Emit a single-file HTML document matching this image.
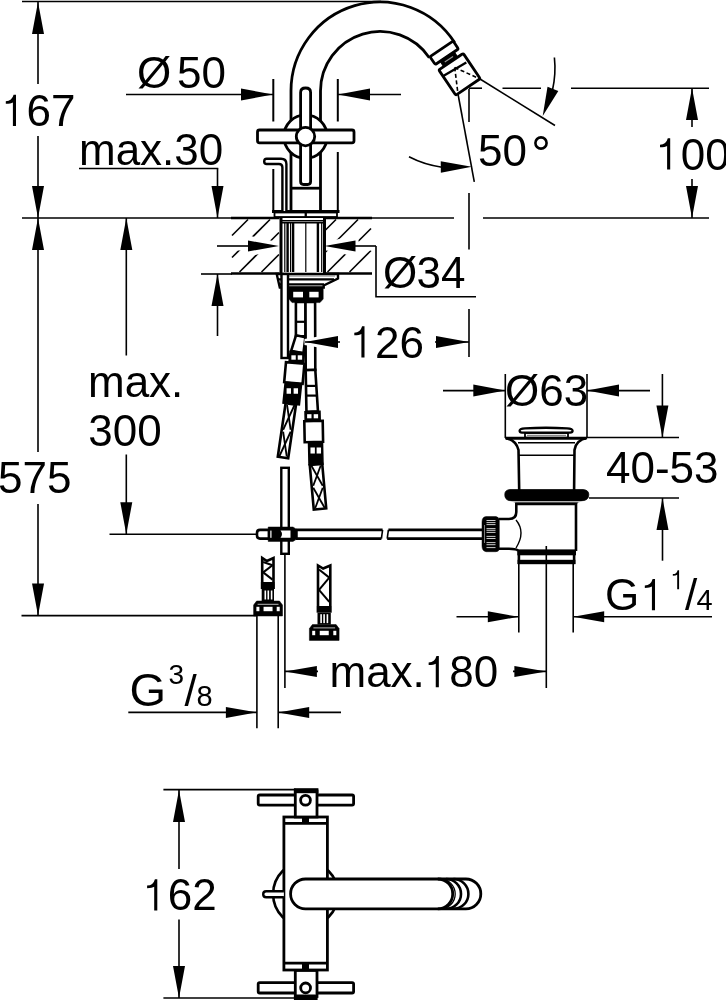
<!DOCTYPE html>
<html><head><meta charset="utf-8"><style>
html,body{margin:0;padding:0;background:#fff;overflow:hidden;}
svg{display:block;will-change:transform;}
text{font-family:"Liberation Sans",sans-serif;fill:#000;stroke:none;}
</style></head><body>
<svg width="726" height="1000" viewBox="0 0 726 1000" stroke="#000" fill="none">
<line x1="22" y1="1.5" x2="381" y2="1.5" stroke-width="1.6" stroke-linecap="butt"/>
<line x1="38" y1="2" x2="38" y2="84" stroke-width="1.6" stroke-linecap="butt"/>
<polygon points="38,2 44,34 32,34" fill="#000" stroke="none"/>
<path transform="translate(2,126) scale(1.0000)" d="M14,0 L10.9,0 L10.9,-23.6 Q9,-22.2 3.8,-22.2 L3.8,-24.8 Q10,-25 11.6,-31.2 L14,-31.2 Z" fill="#000" stroke="none"/>
<text x="2" y="126" font-size="44" text-anchor="start" > 67</text>
<line x1="38" y1="136" x2="38" y2="218" stroke-width="1.6" stroke-linecap="butt"/>
<polygon points="38,218 32,186 44,186" fill="#000" stroke="none"/>
<line x1="22" y1="218" x2="454" y2="218" stroke-width="1.6" stroke-linecap="butt"/>
<line x1="483" y1="218" x2="709" y2="218" stroke-width="1.6" stroke-linecap="butt"/>
<text x="137" y="88" font-size="44" text-anchor="start" >Ø</text>
<text x="177" y="88" font-size="44" text-anchor="start" >50</text>
<line x1="126" y1="94.5" x2="273" y2="94.5" stroke-width="1.6" stroke-linecap="butt"/>
<polygon points="273,94.5 241,100.5 241,88.5" fill="#000" stroke="none"/>
<line x1="338" y1="94.5" x2="401" y2="94.5" stroke-width="1.6" stroke-linecap="butt"/>
<polygon points="338,94.5 370,88.5 370,100.5" fill="#000" stroke="none"/>
<text x="79" y="165.3" font-size="44" text-anchor="start" >max.30</text>
<line x1="79" y1="168.5" x2="218.3" y2="168.5" stroke-width="1.6" stroke-linecap="butt"/>
<line x1="217.5" y1="168.5" x2="217.5" y2="218" stroke-width="1.6" stroke-linecap="butt"/>
<polygon points="217.5,218 211.5,186 223.5,186" fill="#000" stroke="none"/>
<line x1="217.5" y1="274" x2="217.5" y2="336" stroke-width="1.6" stroke-linecap="butt"/>
<polygon points="217.5,274 223.5,306 211.5,306" fill="#000" stroke="none"/>
<line x1="201" y1="274" x2="232" y2="274" stroke-width="1.6" stroke-linecap="butt"/>
<g stroke-width="1.6">
<line x1="232" y1="235.5" x2="248" y2="219.5" stroke-width="1.6" stroke-linecap="butt"/>
<line x1="232" y1="257.5" x2="270" y2="219.5" stroke-width="1.6" stroke-linecap="butt"/>
<line x1="239.5" y1="272" x2="279" y2="232.5" stroke-width="1.6" stroke-linecap="butt"/>
<line x1="261.5" y1="272" x2="279" y2="254.5" stroke-width="1.6" stroke-linecap="butt"/>
<line x1="325.5" y1="230" x2="336" y2="219.5" stroke-width="1.6" stroke-linecap="butt"/>
<line x1="325.5" y1="252" x2="358" y2="219.5" stroke-width="1.6" stroke-linecap="butt"/>
<line x1="327.5" y1="272" x2="371" y2="228.5" stroke-width="1.6" stroke-linecap="butt"/>
<line x1="349.5" y1="272" x2="371" y2="250.5" stroke-width="1.6" stroke-linecap="butt"/>
</g>
<polyline stroke="#fff" points="217,246 279,246" stroke-width="9" fill="none" stroke-linejoin="miter" stroke-linecap="butt"/>
<polygon points="279,246 248,239 248,253" fill="#fff" stroke="#fff" stroke-width="7"/>
<polyline stroke="#fff" points="324.5,246 376,246" stroke-width="9" fill="none" stroke-linejoin="miter" stroke-linecap="butt"/>
<polygon points="324.5,246 355,239 355,253" fill="#fff" stroke="#fff" stroke-width="7"/>
<line x1="231" y1="218" x2="372" y2="218" stroke-width="2.4" stroke-linecap="butt"/>
<line x1="231" y1="273.5" x2="372" y2="273.5" stroke-width="2.4" stroke-linecap="butt"/>
<rect x="279.5" y="218" width="45" height="56" stroke="none" fill="#fff"/>
<line x1="281" y1="218" x2="281" y2="274" stroke-width="3" stroke-linecap="butt"/>
<line x1="324.5" y1="218" x2="324.5" y2="274" stroke-width="3" stroke-linecap="butt"/>
<line x1="284.8" y1="222" x2="284.8" y2="272" stroke-width="1.2" stroke-linecap="butt"/>
<line x1="287.6" y1="222" x2="287.6" y2="272" stroke-width="2.4" stroke-linecap="butt"/>
<line x1="290.6" y1="222" x2="290.6" y2="272" stroke-width="1.2" stroke-linecap="butt"/>
<line x1="293.1" y1="222" x2="293.1" y2="272" stroke-width="2.4" stroke-linecap="butt"/>
<line x1="305.8" y1="222" x2="305.8" y2="272" stroke-width="1.2" stroke-linecap="butt"/>
<line x1="317.9" y1="222" x2="317.9" y2="272" stroke-width="2.4" stroke-linecap="butt"/>
<line x1="321.7" y1="222" x2="321.7" y2="272" stroke-width="1.2" stroke-linecap="butt"/>
<line x1="282" y1="220.5" x2="323" y2="220.5" stroke-width="1.0" stroke-linecap="butt"/>
<line x1="282" y1="222.5" x2="323" y2="222.5" stroke-width="2" stroke-linecap="butt"/>
<line x1="217" y1="246" x2="249" y2="246" stroke-width="1.6" stroke-linecap="butt"/>
<polygon points="279,246 248,251.5 248,240.5" fill="#000" stroke="none"/>
<line x1="354" y1="246" x2="376" y2="246" stroke-width="1.6" stroke-linecap="butt"/>
<polygon points="324.5,246 355.5,240.5 355.5,251.5" fill="#000" stroke="none"/>
<polyline points="376,246 376,296.7 476,296.7" stroke-width="1.6" fill="none" stroke-linejoin="miter" stroke-linecap="butt"/>
<text x="383" y="287.8" font-size="44" text-anchor="start" >Ø</text>
<text x="416.5" y="287.8" font-size="44" text-anchor="start" >34</text>
<path d="M291,212 L291,91 A89,89 0 0 1 454.64,42.53" stroke-width="2.8" fill="none" />
<path d="M320.5,212 L320.5,91 A59.5,59.5 0 0 1 429.33,57.73" stroke-width="2.8" fill="none" />
<rect x="-14" y="-4.75" width="28" height="9.5" rx="1.5" transform="translate(444.2,52.8) rotate(-34)" stroke-width="2.8" fill="#fff"/>
<rect x="-8.5" y="-3.5" width="17" height="7" rx="1.5" transform="translate(448.9,59.2) rotate(-34)" stroke-width="1" fill="#000"/>
<rect x="-5" y="-0.6" width="10" height="1.2" fill="#999" stroke="none" transform="translate(448.9,59.2) rotate(-34)"/>
<rect x="-14.75" y="-15.25" width="29.5" height="30.5" rx="1.5" transform="translate(459.5,74.3) rotate(-34)" stroke-width="2.8" fill="#fff"/>
<line x1="443.7" y1="75.7" x2="466.3" y2="62.5" stroke-width="2.4" stroke-linecap="butt"/>
<g stroke-dasharray="4,2.5" stroke-width="1.4">
<line x1="454.7" y1="67.5" x2="480" y2="79" stroke-width="1.6" stroke-linecap="butt"/>
<line x1="454.7" y1="67.5" x2="458" y2="94" stroke-width="1.6" stroke-linecap="butt"/>
</g>
<line x1="480" y1="79" x2="555" y2="125.5" stroke-width="1.6" stroke-linecap="butt"/>
<line x1="458" y1="94" x2="474.3" y2="181.8" stroke-width="1.6" stroke-linecap="butt"/>
<line x1="469" y1="88.2" x2="482" y2="88.2" stroke-width="1.6" stroke-linecap="butt"/>
<line x1="502.5" y1="88.2" x2="541" y2="88.2" stroke-width="1.6" stroke-linecap="butt"/>
<line x1="571" y1="88.2" x2="709" y2="88.2" stroke-width="1.6" stroke-linecap="butt"/>
<line x1="469" y1="89" x2="469" y2="122" stroke-width="1.6" stroke-linecap="butt"/>
<line x1="469" y1="193" x2="469" y2="249.6" stroke-width="1.6" stroke-linecap="butt"/>
<line x1="469" y1="309" x2="469" y2="357" stroke-width="1.6" stroke-linecap="butt"/>
<path d="M554.4,57.5 A100,100 0 0 1 552.5,90" stroke-width="1.6" fill="none" />
<polygon points="542.7,116 547.53,86.83 558.29,90.88" fill="#000" stroke="none"/>
<path d="M409,156.8 A100,100 0 0 0 442,167.2" stroke-width="1.6" fill="none" />
<polygon points="471.8,166.8 440.86,172.86 440.74,161.36" fill="#000" stroke="none"/>
<text x="478" y="165.5" font-size="44" text-anchor="start" >50</text>
<circle cx="541" cy="143" r="5.6" stroke-width="2.6" fill="none"/>
<line x1="692" y1="88" x2="692" y2="127" stroke-width="1.6" stroke-linecap="butt"/>
<polygon points="692,88 698,120 686,120" fill="#000" stroke="none"/>
<line x1="692" y1="179" x2="692" y2="218" stroke-width="1.6" stroke-linecap="butt"/>
<polygon points="692,218 686,186 698,186" fill="#000" stroke="none"/>
<path transform="translate(656.2,169.5) scale(1.0000)" d="M14,0 L10.9,0 L10.9,-23.6 Q9,-22.2 3.8,-22.2 L3.8,-24.8 Q10,-25 11.6,-31.2 L14,-31.2 Z" fill="#000" stroke="none"/>
<text x="656.2" y="169.5" font-size="44" text-anchor="start" > 00</text>
<line x1="273.3" y1="79" x2="273.3" y2="121.5" stroke-width="2" stroke-linecap="butt"/>
<line x1="273.3" y1="169" x2="273.3" y2="212" stroke-width="2" stroke-linecap="butt"/>
<line x1="337.8" y1="79" x2="337.8" y2="121.5" stroke-width="2" stroke-linecap="butt"/>
<line x1="337.8" y1="152" x2="337.8" y2="212" stroke-width="2" stroke-linecap="butt"/>
<line x1="272" y1="211.5" x2="339.5" y2="211.5" stroke-width="2.8" stroke-linecap="butt"/>
<rect x="274.5" y="212.5" width="31" height="4.5" rx="0" stroke-width="1.8" fill="#fff"/>
<rect x="306" y="212.5" width="31" height="4.5" rx="0" stroke-width="1.8" fill="#fff"/>
<line x1="291" y1="188.2" x2="320.5" y2="188.2" stroke-width="2.8" stroke-linecap="butt"/>
<path d="M282.4,211 L282.4,167.5 Q282.4,164 279,164 L266.6,164 Q264.2,164 264.2,161.4 Q264.2,158.8 266.6,158.8 L281,158.8 Q286.4,158.8 286.4,164 L286.4,211" stroke-width="2.4" fill="#fff" />
<circle cx="305.5" cy="136.6" r="21.7" stroke-width="2.8" fill="#fff"/>
<path d="M300.6,181.5 L300.6,92.5 Q300.6,88 305.6,88 Q310.6,88 310.6,92.5 L310.6,181.5 Q310.6,184.5 307.6,184.5 L303.6,184.5 Q300.6,184.5 300.6,181.5 Z" stroke-width="2.8" fill="#fff" />
<rect x="257.5" y="130" width="96.5" height="12.8" rx="2" stroke-width="2.8" fill="#fff"/>
<circle cx="305.5" cy="136.6" r="9.2" stroke-width="2.8" fill="#fff"/>
<path d="M276.7,274 L338,274 L338,278.5 L323.7,285.5 L323.7,287.5 L279.8,287.5 Z" stroke-width="2.4" fill="#fff" />
<line x1="280" y1="276" x2="335" y2="276" stroke-width="1.0" stroke-linecap="butt" stroke="#777"/>
<line x1="278" y1="279.4" x2="334" y2="279.4" stroke-width="2.2" stroke-linecap="butt"/>
<line x1="279" y1="284.3" x2="324" y2="284.3" stroke-width="2.2" stroke-linecap="butt"/>
<path d="M289,287 L323.2,287 L323.2,299 L320,302.6 L292,302.6 L289,299 Z" stroke-width="0.5" fill="#000" />
<rect x="293.2" y="291.8" width="9.8" height="5.6" stroke="none" fill="#fff"/>
<rect x="309.3" y="291.8" width="9.3" height="5.6" stroke="none" fill="#fff"/>
<rect x="281.5" y="274" width="6.5" height="84" rx="0" stroke-width="2.4" fill="#fff"/>
<polygon points="295.9,302 295.9,336.3 305.5,336.3 305.5,302" stroke-width="2.6" fill="#fff" stroke-linejoin="miter" stroke-linecap="butt"/>
<line x1="296" y1="321.8" x2="305.5" y2="321.8" stroke-width="2.2" stroke-linecap="butt"/>
<polygon points="296.01,335.28 291.19,350.68 303.41,353.32 305.39,337.32" stroke-width="2.6" fill="#fff" stroke-linejoin="miter" stroke-linecap="butt"/>
<polygon points="290.09,351.28 288.99,362.28 303.41,363.72 304.51,352.72" stroke-width="1.5" fill="#000" stroke-linejoin="miter" stroke-linecap="butt"/>
<rect x="291.36" y="355.3" width="4.4" height="4.4" stroke="none" fill="#fff"/>
<rect x="297.74" y="355.3" width="4.4" height="4.4" stroke="none" fill="#fff"/>
<polygon points="285.99,362.17 284.19,382.17 302.61,383.83 304.41,363.83" stroke-width="2.6" fill="#fff" stroke-linejoin="miter" stroke-linecap="butt"/>
<polygon points="285.19,382.14 282.99,403.14 299.41,404.86 301.61,383.86" stroke-width="1.5" fill="#000" stroke-linejoin="miter" stroke-linecap="butt"/>
<rect x="286.58" y="388.25" width="4.4" height="5.5" stroke="none" fill="#fff"/>
<rect x="293.62" y="388.25" width="4.4" height="5.5" stroke="none" fill="#fff"/>
<polygon points="285.6,403.24 277.8,456.74 288.2,458.26 296,404.76" stroke-width="2.6" fill="#fff" stroke-linejoin="miter" stroke-linecap="butt"/>
<line x1="287.05" y1="405" x2="290.65" y2="429.75" stroke-width="1.8" stroke-linecap="butt"/>
<line x1="294.55" y1="405" x2="283.15" y2="429.75" stroke-width="1.8" stroke-linecap="butt"/>
<line x1="283.15" y1="431.75" x2="286.75" y2="456.5" stroke-width="1.8" stroke-linecap="butt"/>
<line x1="290.65" y1="431.75" x2="279.25" y2="456.5" stroke-width="1.8" stroke-linecap="butt"/>
<polygon points="305.5,302.01 305.7,370.01 315.3,369.99 315.1,301.99" stroke-width="2.6" fill="#fff" stroke-linejoin="miter" stroke-linecap="butt"/>
<polygon points="305.7,370.2 306.45,411.74 317.95,411.26 315.3,369.8" stroke-width="2.6" fill="#fff" stroke-linejoin="miter" stroke-linecap="butt"/>
<line x1="306" y1="385.9" x2="315.5" y2="385.9" stroke-width="2.2" stroke-linecap="butt"/>
<line x1="306.2" y1="395.6" x2="316" y2="395.6" stroke-width="2.2" stroke-linecap="butt"/>
<polygon points="305,411.66 305.2,421.16 320.2,420.84 320,411.34" stroke-width="1.5" fill="#000" stroke-linejoin="miter" stroke-linecap="butt"/>
<rect x="307.1" y="414.19" width="4.4" height="4.12" stroke="none" fill="#fff"/>
<rect x="313.7" y="414.19" width="4.4" height="4.12" stroke="none" fill="#fff"/>
<polygon points="304.3,421.18 304.7,442.18 323.1,441.82 322.7,420.82" stroke-width="2.6" fill="#fff" stroke-linejoin="miter" stroke-linecap="butt"/>
<polygon points="308.5,442.16 309,464.66 323,464.34 322.5,441.84" stroke-width="1.5" fill="#000" stroke-linejoin="miter" stroke-linecap="butt"/>
<rect x="310.47" y="447.48" width="4.4" height="6.05" stroke="none" fill="#fff"/>
<rect x="316.63" y="447.48" width="4.4" height="6.05" stroke="none" fill="#fff"/>
<polygon points="309.78,465.06 313.78,509.56 326.22,508.44 322.22,463.94" stroke-width="2.6" fill="#fff" stroke-linejoin="miter" stroke-linecap="butt"/>
<line x1="311.25" y1="465.5" x2="322.75" y2="485.75" stroke-width="1.8" stroke-linecap="butt"/>
<line x1="320.75" y1="465.5" x2="313.25" y2="485.75" stroke-width="1.8" stroke-linecap="butt"/>
<line x1="313.25" y1="487.75" x2="324.75" y2="508" stroke-width="1.8" stroke-linecap="butt"/>
<line x1="322.75" y1="487.75" x2="315.25" y2="508" stroke-width="1.8" stroke-linecap="butt"/>
<polygon points="305,342 338,336 338,348" fill="#fff" stroke="#fff" stroke-width="6"/>
<line x1="305" y1="342" x2="340" y2="342" stroke-width="1.6" stroke-linecap="butt"/>
<polygon points="305,342 338,336 338,348" fill="#000" stroke="none"/>
<line x1="435" y1="342" x2="469" y2="342" stroke-width="1.6" stroke-linecap="butt"/>
<polygon points="469,342 436,348 436,336" fill="#000" stroke="none"/>
<path transform="translate(350.5,357.5) scale(1.0000)" d="M14,0 L10.9,0 L10.9,-23.6 Q9,-22.2 3.8,-22.2 L3.8,-24.8 Q10,-25 11.6,-31.2 L14,-31.2 Z" fill="#000" stroke="none"/>
<text x="350.5" y="357.5" font-size="44" text-anchor="start" > 26</text>
<line x1="126.3" y1="218" x2="126.3" y2="355.5" stroke-width="1.6" stroke-linecap="butt"/>
<polygon points="126.3,218 132.3,250 120.3,250" fill="#000" stroke="none"/>
<text x="88" y="396.8" font-size="44" text-anchor="start" >max.</text>
<text x="88.3" y="445.5" font-size="44" text-anchor="start" >300</text>
<line x1="126.3" y1="454.5" x2="126.3" y2="534.2" stroke-width="1.6" stroke-linecap="butt"/>
<polygon points="126.3,534.2 120.3,502.2 132.3,502.2" fill="#000" stroke="none"/>
<line x1="109.5" y1="534.2" x2="257" y2="534.2" stroke-width="1.6" stroke-linecap="butt"/>
<line x1="38" y1="218" x2="38" y2="452" stroke-width="1.6" stroke-linecap="butt"/>
<polygon points="38,218 44,250 32,250" fill="#000" stroke="none"/>
<text x="-2" y="492.5" font-size="44" text-anchor="start" >575</text>
<line x1="38" y1="504" x2="38" y2="615.6" stroke-width="1.6" stroke-linecap="butt"/>
<polygon points="38,615.6 32,583.6 44,583.6" fill="#000" stroke="none"/>
<line x1="21.5" y1="615.6" x2="256" y2="615.6" stroke-width="1.6" stroke-linecap="butt"/>
<rect x="281.3" y="467.8" width="7.5" height="86" rx="0" stroke-width="2.4" fill="#fff"/>
<path d="M269,529.9 L260,529.9 Q257,529.9 257,533 L257,535.5 Q257,538.6 260,538.6 L269,538.6 Z" stroke-width="2.6" fill="#fff" />
<path d="M268.2,527 L293,527 L297.5,529.9 L297.5,538.6 L293,541.4 L268.2,541.4 Z" stroke-width="0.5" fill="#000" />
<path d="M280.5,530.6 L290.5,530.6 L290.5,537.8 L280.5,537.8 Q283.5,534.2 280.5,530.6 Z" stroke-width="0" fill="#fff" />
<rect x="270.3" y="530.6" width="1.2" height="7.2" stroke="none" fill="#fff"/>
<path d="M296,529.9 L382.6,529.9 M296,538.6 L381.4,538.6" stroke-width="2.6" fill="none" />
<line x1="382.6" y1="529.8" x2="381.4" y2="538.6" stroke-width="1.6" stroke-linecap="butt"/>
<line x1="388.4" y1="529.8" x2="387.2" y2="538.6" stroke-width="1.6" stroke-linecap="butt"/>
<path d="M388.4,529.9 L482.5,529.9 M387.2,538.6 L482.5,538.6" stroke-width="2.6" fill="none" />
<line x1="284.9" y1="554" x2="284.9" y2="688" stroke-width="1.6" stroke-linecap="butt"/>
<path d="M262.2,582 L262.2,558 L266.85,561 L273.5,558 L273.5,582" stroke-width="2.6" fill="#fff" />
<line x1="263.2" y1="562" x2="272.5" y2="565.2" stroke-width="2.0" stroke-linecap="butt"/>
<line x1="272.5" y1="565.2" x2="263.2" y2="572.4" stroke-width="2.0" stroke-linecap="butt"/>
<line x1="263.2" y1="572.4" x2="272.5" y2="579.6" stroke-width="2.0" stroke-linecap="butt"/>
<rect x="260.8" y="582" width="14.1" height="7" stroke="none" fill="#000"/>
<rect x="261.7" y="589" width="12.3" height="12" stroke="none" fill="#000"/>
<rect x="264.5" y="590.5" width="1.6" height="9" stroke="none" fill="#fff"/>
<rect x="267.5" y="590.5" width="1.6" height="9" stroke="none" fill="#fff"/>
<rect x="270.8" y="590.5" width="1.6" height="9" stroke="none" fill="#fff"/>
<path d="M256.6,601 L279.5,601 L282.5,605 L282.5,616 L253.6,616 L253.6,605 Z" stroke-width="0.5" fill="#000" />
<rect x="256.4" y="606.8" width="3" height="4.4" stroke="none" fill="#fff"/>
<rect x="276.7" y="606.8" width="3" height="4.4" stroke="none" fill="#fff"/>
<rect x="263.55" y="606.8" width="9" height="4.4" stroke="none" fill="#fff"/>
<line x1="257.6" y1="604.3" x2="278.5" y2="604.3" stroke-width="0.9" stroke-linecap="butt" stroke="#ccc"/>
<path d="M318,606 L318,565.5 L323.15,568.5 L330.3,565.5 L330.3,606" stroke-width="2.6" fill="#fff" />
<line x1="319" y1="569.5" x2="329.3" y2="577.65" stroke-width="2.0" stroke-linecap="butt"/>
<line x1="329.3" y1="577.65" x2="319" y2="589.8" stroke-width="2.0" stroke-linecap="butt"/>
<line x1="319" y1="589.8" x2="329.3" y2="601.95" stroke-width="2.0" stroke-linecap="butt"/>
<rect x="316.6" y="606" width="15.1" height="6.7" stroke="none" fill="#000"/>
<rect x="317.5" y="612.7" width="13.3" height="11.9" stroke="none" fill="#000"/>
<rect x="320.3" y="614.2" width="1.6" height="8.9" stroke="none" fill="#fff"/>
<rect x="323.3" y="614.2" width="1.6" height="8.9" stroke="none" fill="#fff"/>
<rect x="326.6" y="614.2" width="1.6" height="8.9" stroke="none" fill="#fff"/>
<path d="M312.4,624.6 L336.1,624.6 L339.1,628.6 L339.1,640.4 L309.4,640.4 L309.4,628.6 Z" stroke-width="0.5" fill="#000" />
<rect x="312.2" y="630.8" width="3" height="4.4" stroke="none" fill="#fff"/>
<rect x="333.3" y="630.8" width="3" height="4.4" stroke="none" fill="#fff"/>
<rect x="319.75" y="630.8" width="9" height="4.4" stroke="none" fill="#fff"/>
<line x1="313.4" y1="627.9" x2="335.1" y2="627.9" stroke-width="0.9" stroke-linecap="butt" stroke="#ccc"/>
<line x1="256.9" y1="615.7" x2="256.9" y2="728.3" stroke-width="1.6" stroke-linecap="butt"/>
<line x1="278.2" y1="615.7" x2="278.2" y2="728.3" stroke-width="1.6" stroke-linecap="butt"/>
<line x1="284.9" y1="671.4" x2="318" y2="671.4" stroke-width="1.6" stroke-linecap="butt"/>
<polygon points="284.9,671.4 316.9,665.9 316.9,676.9" fill="#000" stroke="none"/>
<line x1="513" y1="671.4" x2="546.4" y2="671.4" stroke-width="1.6" stroke-linecap="butt"/>
<polygon points="546.4,671.4 514.4,676.9 514.4,665.9" fill="#000" stroke="none"/>
<path transform="translate(424.85,687.3) scale(1.0000)" d="M14,0 L10.9,0 L10.9,-23.6 Q9,-22.2 3.8,-22.2 L3.8,-24.8 Q10,-25 11.6,-31.2 L14,-31.2 Z" fill="#000" stroke="none"/>
<text x="329.5" y="687.3" font-size="44" text-anchor="start" >max. 80</text>
<text x="129.5" y="705.8" font-size="47" text-anchor="start" >G</text>
<text x="168.5" y="684" font-size="28" text-anchor="start" >3</text>
<text x="184.5" y="705.5" font-size="44" text-anchor="start" >/</text>
<text x="196.5" y="705.5" font-size="29" text-anchor="start" >8</text>
<line x1="128.3" y1="712.4" x2="257" y2="712.4" stroke-width="1.6" stroke-linecap="butt"/>
<polygon points="256.9,712.4 225.9,717.9 225.9,706.9" fill="#000" stroke="none"/>
<line x1="278.2" y1="712.4" x2="341" y2="712.4" stroke-width="1.6" stroke-linecap="butt"/>
<polygon points="278.2,712.4 309.2,706.9 309.2,717.9" fill="#000" stroke="none"/>
<line x1="505.3" y1="374" x2="505.3" y2="438" stroke-width="1.6" stroke-linecap="butt"/>
<line x1="587" y1="374" x2="587" y2="438" stroke-width="1.6" stroke-linecap="butt"/>
<line x1="443" y1="390.6" x2="505.3" y2="390.6" stroke-width="1.6" stroke-linecap="butt"/>
<polygon points="505.3,390.6 473.3,396.6 473.3,384.6" fill="#000" stroke="none"/>
<line x1="587" y1="390.6" x2="650" y2="390.6" stroke-width="1.6" stroke-linecap="butt"/>
<polygon points="587,390.6 619,384.6 619,396.6" fill="#000" stroke="none"/>
<text x="505" y="406" font-size="44" text-anchor="start" >Ø63</text>
<line x1="505" y1="437.5" x2="679" y2="437.5" stroke-width="1.6" stroke-linecap="butt"/>
<line x1="662.4" y1="374" x2="662.4" y2="437.5" stroke-width="1.6" stroke-linecap="butt"/>
<polygon points="662.4,437.5 656.4,405.5 668.4,405.5" fill="#000" stroke="none"/>
<line x1="589" y1="498" x2="679" y2="498" stroke-width="1.6" stroke-linecap="butt"/>
<line x1="662.5" y1="498" x2="662.5" y2="560.7" stroke-width="1.6" stroke-linecap="butt"/>
<polygon points="662.5,498 668.5,530 656.5,530" fill="#000" stroke="none"/>
<text x="606" y="482.7" font-size="44" text-anchor="start" >40-53</text>
<rect x="525" y="433" width="43" height="4.5" rx="0" stroke-width="1.8" fill="#fff"/>
<line x1="527" y1="435.4" x2="566" y2="435.4" stroke-width="1.3" stroke-linecap="butt" stroke="#888"/>
<path d="M522,432.6 L570,432.6 Q572.6,432.6 572.6,430.7 Q572.6,428.6 567,428.3 Q546,427.2 525,428.3 Q519.6,428.6 519.6,430.7 Q519.6,432.6 522,432.6 Z" stroke-width="2.3" fill="#fff" />
<path d="M505.3,438 Q516,440 518.5,450 L519.2,490 M587,438 Q576,440 574.5,450 L574.1,490" stroke-width="2.6" fill="none" />
<line x1="506" y1="438.5" x2="586" y2="438.5" stroke-width="2.4" stroke-linecap="butt"/>
<line x1="518" y1="442.8" x2="575" y2="442.8" stroke-width="1.6" stroke-linecap="butt"/>
<line x1="519" y1="455.3" x2="574" y2="455.3" stroke-width="1.6" stroke-linecap="butt"/>
<path d="M510,489.6 L583,489.6 Q588.8,490 588.8,494.5 Q588.8,499.5 584,500.5 L578,502 L576,504.5 L517,504.5 L515,502 L509,500.5 Q504.8,499.5 504.8,494.5 Q504.8,490 510,489.6 Z" stroke-width="0.8" fill="#000" />
<line x1="508" y1="501.8" x2="585" y2="501.8" stroke-width="1.0" stroke-linecap="butt" stroke="#fff"/>
<line x1="517" y1="504.5" x2="576" y2="504.5" stroke-width="1.6" stroke-linecap="butt"/>
<path d="M516.3,503 L516.3,512 Q516.3,519 509,519 L499,519 M499,548.8 L509,548.8 Q517,548.8 518.2,551 M576,503 L576,551" stroke-width="2.6" fill="none" />
<path d="M516,520 Q526,532 516,548" stroke-width="1.4" fill="none" />
<path d="M486,516.6 L496,516.6 Q499.3,517 499.3,521 L499.3,548 Q499.3,551.7 496,551.7 L486,551.7 Q482,551 482,546 L482,522 Q482,517 486,516.6 Z" stroke-width="0.5" fill="#000" />
<line x1="486.5" y1="520.5" x2="495.5" y2="520.5" stroke-width="0.8" stroke-linecap="butt" stroke="#fff"/>
<line x1="486.5" y1="522.6" x2="495.5" y2="522.6" stroke-width="0.8" stroke-linecap="butt" stroke="#fff"/>
<line x1="486.5" y1="524.6" x2="495.5" y2="524.6" stroke-width="0.8" stroke-linecap="butt" stroke="#fff"/>
<line x1="486.5" y1="528.6" x2="495.5" y2="528.6" stroke-width="0.8" stroke-linecap="butt" stroke="#fff"/>
<line x1="486.5" y1="530.3" x2="495.5" y2="530.3" stroke-width="0.8" stroke-linecap="butt" stroke="#fff"/>
<line x1="486.5" y1="532.4" x2="495.5" y2="532.4" stroke-width="0.8" stroke-linecap="butt" stroke="#fff"/>
<line x1="486.5" y1="536.4" x2="495.5" y2="536.4" stroke-width="0.8" stroke-linecap="butt" stroke="#fff"/>
<line x1="486.5" y1="538.5" x2="495.5" y2="538.5" stroke-width="0.8" stroke-linecap="butt" stroke="#fff"/>
<line x1="486.5" y1="542.6" x2="495.5" y2="542.6" stroke-width="0.8" stroke-linecap="butt" stroke="#fff"/>
<line x1="486.5" y1="544.7" x2="495.5" y2="544.7" stroke-width="0.8" stroke-linecap="butt" stroke="#fff"/>
<line x1="486.5" y1="547.6" x2="495.5" y2="547.6" stroke-width="0.8" stroke-linecap="butt" stroke="#fff"/>
<line x1="484.5" y1="525" x2="484.5" y2="543" stroke-width="0.6" stroke-linecap="butt" stroke="#ccc"/>
<rect x="517.2" y="549.4" width="58.8" height="5.9" stroke="none" fill="#000"/>
<rect x="517.6" y="555" width="2.6" height="9" stroke="none" fill="#000"/>
<rect x="572.8" y="555" width="2.6" height="9" stroke="none" fill="#000"/>
<rect x="517.6" y="559.8" width="57.8" height="4.4" stroke="none" fill="#000"/>
<line x1="546.3" y1="546" x2="546.3" y2="688" stroke-width="1.6" stroke-linecap="butt"/>
<line x1="518.8" y1="564" x2="518.8" y2="632.6" stroke-width="1.6" stroke-linecap="butt"/>
<line x1="573.2" y1="564" x2="573.2" y2="632.6" stroke-width="1.6" stroke-linecap="butt"/>
<line x1="456.5" y1="616.8" x2="518.8" y2="616.8" stroke-width="1.6" stroke-linecap="butt"/>
<polygon points="518.8,616.8 487.8,622.3 487.8,611.3" fill="#000" stroke="none"/>
<line x1="573.2" y1="616.8" x2="712" y2="616.8" stroke-width="1.6" stroke-linecap="butt"/>
<polygon points="573.2,616.8 604.2,611.3 604.2,622.3" fill="#000" stroke="none"/>
<text x="605" y="610.2" font-size="44" text-anchor="start" >G</text>
<path transform="translate(641.02,610.2) scale(1.0000)" d="M14,0 L10.9,0 L10.9,-23.6 Q9,-22.2 3.8,-22.2 L3.8,-24.8 Q10,-25 11.6,-31.2 L14,-31.2 Z" fill="#000" stroke="none"/>
<text x="641.02" y="610.2" font-size="44" text-anchor="start" > </text>
<path transform="translate(670.5,589.3) scale(0.6136)" d="M14,0 L10.9,0 L10.9,-23.6 Q9,-22.2 3.8,-22.2 L3.8,-24.8 Q10,-25 11.6,-31.2 L14,-31.2 Z" fill="#000" stroke="none"/>
<text x="670.5" y="589.3" font-size="27" text-anchor="start" > </text>
<text x="685" y="610" font-size="44" text-anchor="start" >/</text>
<text x="696.5" y="609.8" font-size="29" text-anchor="start" >4</text>
<line x1="163.4" y1="789.6" x2="296" y2="789.6" stroke-width="1.6" stroke-linecap="butt"/>
<line x1="163.4" y1="998" x2="296" y2="998" stroke-width="1.6" stroke-linecap="butt"/>
<line x1="179" y1="790" x2="179" y2="869" stroke-width="1.6" stroke-linecap="butt"/>
<polygon points="179,790 185,822 173,822" fill="#000" stroke="none"/>
<line x1="179" y1="919.6" x2="179" y2="998" stroke-width="1.6" stroke-linecap="butt"/>
<polygon points="179,998 173,966 185,966" fill="#000" stroke="none"/>
<path transform="translate(143.3,910.4) scale(1.0000)" d="M14,0 L10.9,0 L10.9,-23.6 Q9,-22.2 3.8,-22.2 L3.8,-24.8 Q10,-25 11.6,-31.2 L14,-31.2 Z" fill="#000" stroke="none"/>
<text x="143.3" y="910.4" font-size="44" text-anchor="start" > 62</text>
<circle cx="305.6" cy="894" r="32.5" stroke-width="2.6" fill="#fff"/>
<rect x="283.9" y="817" width="43.5" height="153" rx="0" stroke-width="2.8" fill="#fff"/>
<line x1="283.9" y1="823.4" x2="327.4" y2="823.4" stroke-width="2.8" stroke-linecap="butt"/>
<line x1="283.9" y1="963.1" x2="327.4" y2="963.1" stroke-width="2.8" stroke-linecap="butt"/>
<rect x="302" y="817" width="7" height="6.4" stroke="none" fill="#000"/>
<rect x="302" y="963" width="7" height="7" stroke="none" fill="#000"/>
<rect x="258.2" y="795" width="95.4" height="10.1" rx="1.5" stroke-width="2.8" fill="#fff"/>
<rect x="295.3" y="791" width="21.7" height="26" rx="0" stroke-width="2.8" fill="#fff"/>
<rect x="293.9" y="788.2" width="24.5" height="5" stroke="none" fill="#000"/>
<circle cx="305.5" cy="800.3" r="4.9" stroke-width="2.8" fill="#fff"/>
<rect x="258.2" y="982.6" width="95.4" height="10.4" rx="1.5" stroke-width="2.8" fill="#fff"/>
<rect x="295.3" y="970.5" width="21.7" height="26" rx="0" stroke-width="2.8" fill="#fff"/>
<path d="M293.9,1000 L293.9,997 Q293.9,994.5 296.5,994.5 L315,994.5 Q317.6,994.5 317.6,997 L317.6,1000 Z" fill="#000" stroke="none"/>
<circle cx="305.6" cy="987.9" r="4.9" stroke-width="2.8" fill="#fff"/>
<path d="M305.5,879 L465.9,879 A14.9,14.9 0 0 1 465.9,908.8 L305.5,908.8 A14.9,14.9 0 0 1 305.5,879 Z" stroke-width="2.8" fill="#fff" />
<path d="M437.8,879 A14.9,14.9 0 0 1 437.8,908.8" stroke-width="2.8" fill="none" />
<path d="M440.3,879 A14.9,14.9 0 0 1 440.3,908.8" stroke-width="1.3" fill="none" />
<path d="M446.1,879 A14.9,14.9 0 0 1 446.1,908.8" stroke-width="2.6" fill="none" />
<path d="M453.5,879 A14.9,14.9 0 0 1 453.5,908.8" stroke-width="2.6" fill="none" />
<path d="M283.9,891.2 L266.2,891.2 Q263.2,891.2 263.2,894.2 Q263.2,897.2 266.2,897.2 L283.9,897.2" stroke-width="2.4" fill="#fff" />
</svg></body></html>
